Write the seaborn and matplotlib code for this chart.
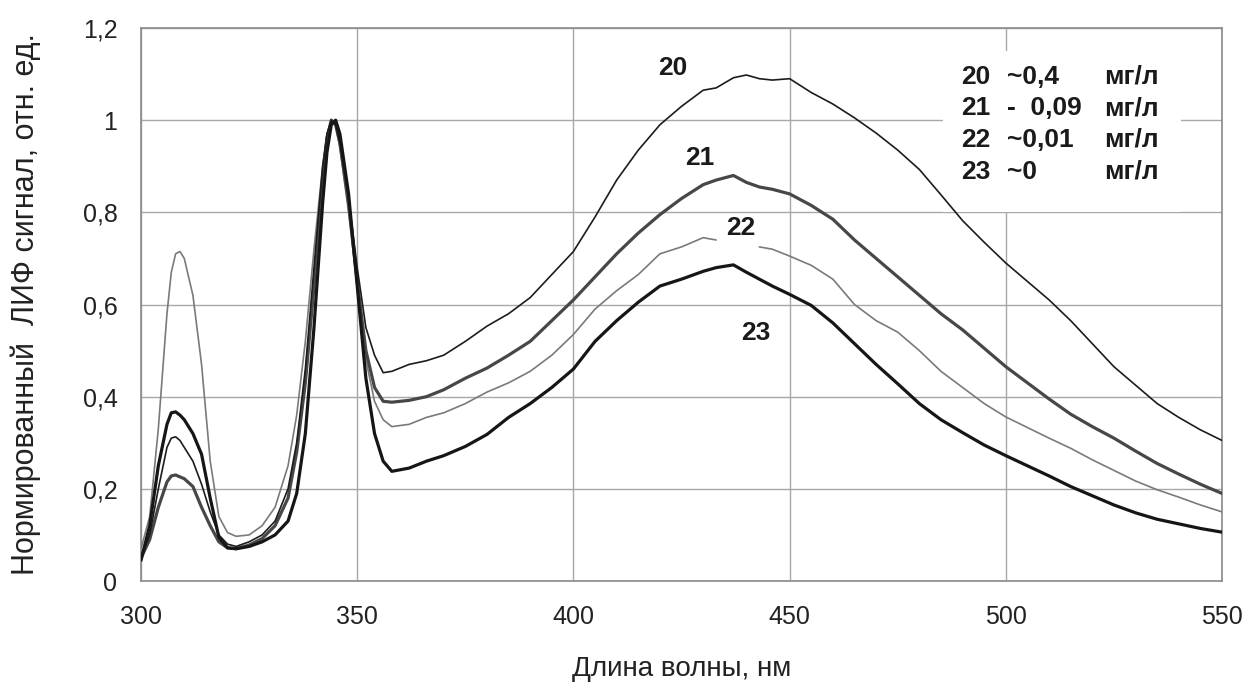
import numpy as np
import pandas as pd
import matplotlib
matplotlib.use("Agg")
import matplotlib.pyplot as plt
from matplotlib.patches import Rectangle
import seaborn as sns

# ---------------- data ----------------
wavelength = [300, 302, 304, 306, 307, 308, 309, 310, 312, 314, 316, 318, 320, 322, 325,
              328, 331, 334, 336, 338, 340, 342, 343, 344, 345, 346, 348, 350, 352, 354,
              356, 358, 362, 366, 370, 375, 380, 385, 390, 395, 400, 405, 410, 415, 420,
              425, 430, 433, 437, 440, 443, 446, 450, 455, 460, 465, 470, 475, 480, 485,
              490, 495, 500, 505, 510, 515, 520, 525, 530, 535, 540, 545, 550]

curve_20 = [0.05, 0.10, 0.20, 0.29, 0.31, 0.313, 0.305, 0.29, 0.26, 0.21, 0.15, 0.10, 0.08, 0.075, 0.085,
            0.10, 0.13, 0.20, 0.30, 0.46, 0.68, 0.90, 0.97, 1.0, 0.99, 0.95, 0.83, 0.68, 0.55, 0.49,
            0.452, 0.455, 0.47, 0.478, 0.49, 0.52, 0.553, 0.58, 0.615, 0.665, 0.715, 0.79, 0.87, 0.935, 0.99,
            1.03, 1.065, 1.07, 1.092, 1.098, 1.09, 1.087, 1.09, 1.06, 1.035, 1.005, 0.972, 0.935, 0.893, 0.838,
            0.782, 0.735, 0.69, 0.65, 0.61, 0.565, 0.515, 0.465, 0.425, 0.385, 0.355, 0.328, 0.305]

curve_21 = [0.05, 0.09, 0.16, 0.215, 0.228, 0.23, 0.226, 0.222, 0.205, 0.16, 0.12, 0.085, 0.072, 0.07, 0.078,
            0.092, 0.12, 0.18, 0.28, 0.43, 0.64, 0.87, 0.96, 1.0, 0.99, 0.95, 0.82, 0.65, 0.50, 0.42,
            0.39, 0.388, 0.392, 0.40, 0.415, 0.44, 0.462, 0.49, 0.52, 0.565, 0.61, 0.66, 0.71, 0.755, 0.795,
            0.83, 0.86, 0.87, 0.88, 0.865, 0.855, 0.85, 0.84, 0.815, 0.785, 0.74, 0.70, 0.66, 0.62, 0.58,
            0.545, 0.505, 0.465, 0.43, 0.395, 0.362, 0.335, 0.31, 0.282, 0.255, 0.232, 0.21, 0.19]

curve_22 = [0.07, 0.14, 0.33, 0.58, 0.67, 0.71, 0.715, 0.70, 0.62, 0.47, 0.26, 0.14, 0.105, 0.097, 0.10,
            0.12, 0.16, 0.25, 0.36, 0.52, 0.72, 0.90, 0.97, 1.0, 0.99, 0.94, 0.80, 0.64, 0.48, 0.39,
            0.35, 0.335, 0.34, 0.355, 0.365, 0.385, 0.41, 0.43, 0.455, 0.49, 0.535, 0.59, 0.63, 0.665, 0.71,
            0.725, 0.745, 0.74, np.nan, np.nan, 0.725, 0.72, 0.705, 0.685, 0.655, 0.60, 0.565, 0.54, 0.50, 0.455,
            0.42, 0.385, 0.356, 0.333, 0.31, 0.288, 0.263, 0.24, 0.217, 0.198, 0.182, 0.165, 0.15]

curve_23 = [0.045, 0.12, 0.25, 0.34, 0.365, 0.367, 0.36, 0.35, 0.32, 0.275, 0.18, 0.095, 0.072, 0.07, 0.075,
            0.085, 0.10, 0.13, 0.19, 0.32, 0.55, 0.82, 0.93, 0.99, 1.0, 0.97, 0.84, 0.64, 0.44, 0.32,
            0.26, 0.238, 0.245, 0.26, 0.272, 0.292, 0.318, 0.355, 0.385, 0.42, 0.46, 0.52, 0.565, 0.605, 0.64,
            0.655, 0.672, 0.68, 0.686, 0.67, 0.655, 0.64, 0.622, 0.598, 0.56, 0.515, 0.47, 0.428, 0.385, 0.35,
            0.322, 0.295, 0.272, 0.25, 0.228, 0.205, 0.185, 0.165, 0.148, 0.134, 0.124, 0.114, 0.106]

curve_names = ["20", "21", "22", "23"]
legend_numbers = ["20", "21", "22", "23"]
legend_values = ["~0,4", "-  0,09", "~0,01", "~0"]
legend_units = ["мг/л", "мг/л", "мг/л", "мг/л"]

x_ticks = [300, 350, 400, 450, 500, 550]
y_ticks = [0, 0.2, 0.4, 0.6, 0.8, 1.0, 1.2]
y_tick_labels = ["0", "0,2", "0,4", "0,6", "0,8", "1", "1,2"]

x_label = "Длина волны, нм"
y_label = "Нормированный  ЛИФ сигнал, отн. ед."

# ---------------- style ----------------
sns.set_theme(style="whitegrid")
plt.rcParams["font.family"] = ["Liberation Sans", "DejaVu Sans"]

fig = plt.figure(figsize=(12.48, 6.93), dpi=100)
ax = fig.add_axes([0.113, 0.1616, 0.8662, 0.798])
ax.set_facecolor("white")

styles = {
    "20": dict(color="#1c1c1c", lw=1.2),
    "21": dict(color="#474747", lw=2.3),
    "22": dict(color="#7a7a7a", lw=1.2),
    "23": dict(color="#161616", lw=2.3),
}

series = {"20": curve_20, "21": curve_21, "22": curve_22, "23": curve_23}
draw_order = ["22", "21", "20", "23"]
for name in draw_order:
    df = pd.DataFrame({"wl": wavelength, "val": series[name]})
    df["seg"] = df["val"].isna().cumsum()
    df = df.dropna()
    for _, part in df.groupby("seg"):
        sns.lineplot(data=part, x="wl", y="val", ax=ax, color=styles[name]["color"],
                     linewidth=styles[name]["lw"], legend=False, zorder=3)

ax.set_xlim(300, 550)
ax.set_ylim(0, 1.2)
ax.set_xticks(x_ticks)
ax.set_xticklabels([str(t) for t in x_ticks])
ax.set_yticks(y_ticks)
ax.set_yticklabels(y_tick_labels)
ax.grid(True, color="#a8a8a8", linewidth=1.0)
ax.set_axisbelow(True)
for sp in ax.spines.values():
    sp.set_color("#8a8a8a")
    sp.set_linewidth(1.2)
ax.tick_params(axis="both", labelsize=18, colors="#222222", length=6, width=1,
               direction="out", pad=11)
ax.tick_params(axis="both", color="#a0a0a0")
ax.set_xlabel(x_label, fontsize=20, color="#222222", labelpad=20)
ax.set_ylabel(y_label, fontsize=22, color="#222222", labelpad=30)

# white box behind the concentration notes
ax.add_patch(Rectangle((485.5, 0.80), 55.0, 0.35, facecolor="white", edgecolor="none",
                       zorder=1.5))

rows_y = [1.094, 1.026, 0.957, 0.888]
for num, val, unit, yy in zip(legend_numbers, legend_values, legend_units, rows_y):
    ax.text(489.6, yy, num, fontsize=19, fontweight="bold", ha="left", va="center",
            color="#1a1a1a", zorder=4)
    ax.text(500.3, yy, val, fontsize=19, fontweight="bold", ha="left", va="center",
            color="#1a1a1a", zorder=4)
    ax.text(535.3, yy, unit, fontsize=19, fontweight="bold", ha="right", va="center",
            color="#1a1a1a", zorder=4)

label_pos = {"20": (423.0, 1.113), "21": (429.3, 0.918), "22": (438.8, 0.766), "23": (442.2, 0.538)}
for name in curve_names:
    lx, ly = label_pos[name]
    ax.text(lx, ly, name, fontsize=19, fontweight="bold", ha="center", va="center",
            color="#1a1a1a", zorder=4)

fig.savefig("out.png", dpi=100, facecolor="white")
